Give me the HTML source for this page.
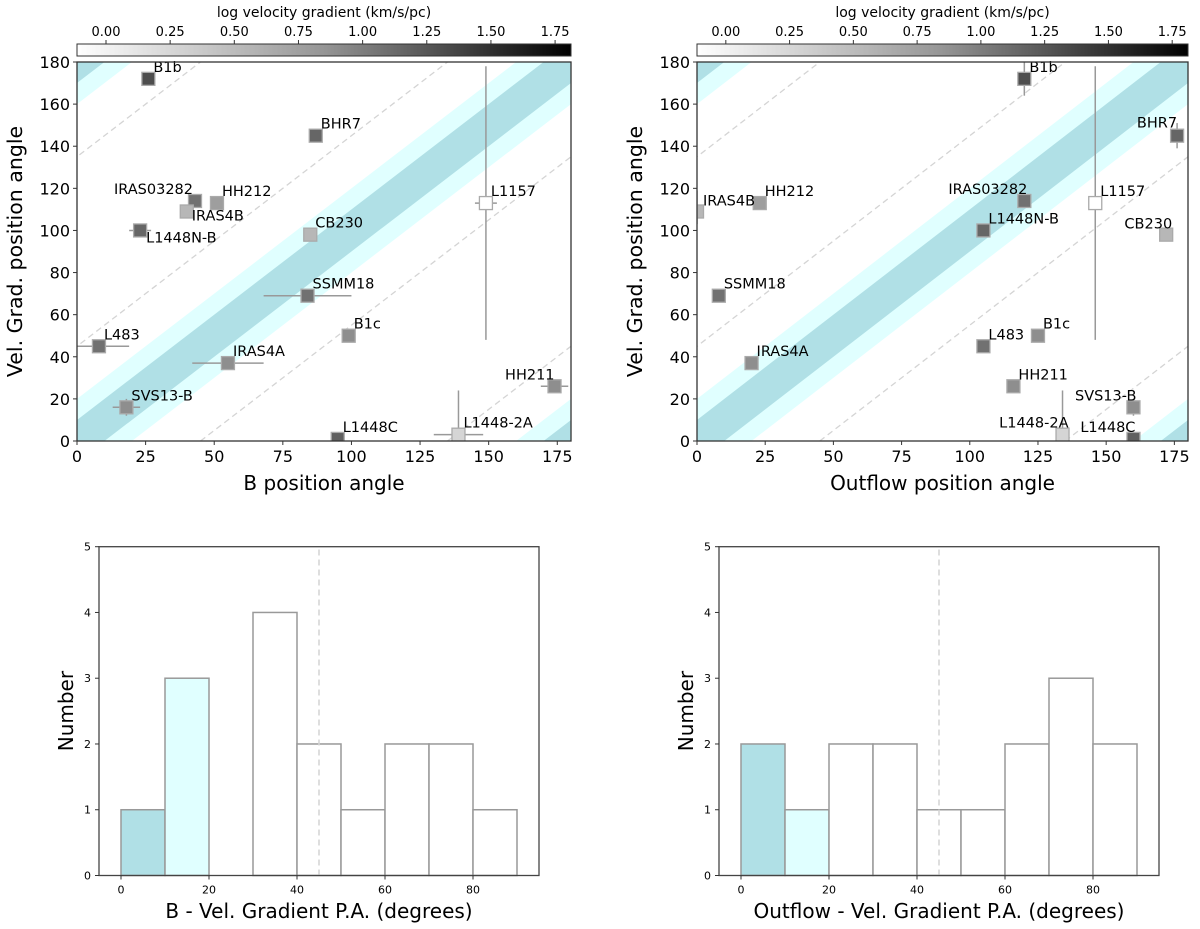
<!DOCTYPE html>
<html><head><meta charset="utf-8"><style>
body{margin:0;background:#fff}
svg{display:block;font-family:"DejaVu Sans","Liberation Sans",sans-serif}
</style></head><body>
<svg id="fig" width="1200" height="929" viewBox="0 0 1200 929" xmlns="http://www.w3.org/2000/svg">
<defs><linearGradient id="cbg" x1="0" x2="1" y1="0" y2="0"><stop offset="0" stop-color="#fff"/><stop offset="0.5" stop-color="#959595"/><stop offset="1" stop-color="#000"/></linearGradient>
<clipPath id="clipL"><rect x="77" y="62" width="494" height="379"/></clipPath>
<clipPath id="clipR"><rect x="697" y="62" width="491" height="379"/></clipPath></defs>
</svg>
<script>
// ---- data ----
const names = ["B1b","BHR7","IRAS03282","HH212","IRAS4B","L1448N-B","L1157","CB230","SSMM18","B1c","L483","IRAS4A","SVS13-B","L1448C","L1448-2A","HH211"];
const velPA = [172,145,114,113,109,100,113,98,69,50,45,37,16,1,3,26];
const bPA = [26,87,43,51,40,23,149,85,84,99,8,55,18,95,139,174];
const bErr = [0,0,0,0,0,4,4,0,16,0,11,13,5,0,9,5];
const outPA = [120,176,120,23,0,105,146,172,8,125,105,20,160,160,134,116];
const outErr = [0,0,0,0,0,0,0,0,0,0,0,0,0,0,0,0];
const velErrLoB = [0,0,0,0,0,0,65,0,0,0,0,0,4,0,0,0];
const velErrHiB = [0,0,0,0,0,0,65,0,0,0,0,0,4,0,21,0];
const velErrLoOut = [8,6,0,0,6,0,65,0,0,0,0,0,4,0,0,0];
const velErrHiOut = [8,6,0,0,10,0,65,0,0,0,0,0,4,0,21,0];
const logGrad = [1.4,1.2,1.1,0.72,0.5,1.2,-0.11,0.5,1.1,0.85,1.1,0.85,0.85,1.25,0.25,0.85];
const histB = [1,3,0,4,2,1,2,2,1];
const histOut = [2,1,2,2,1,1,2,3,2];
const histEdges = [0,10,20,30,40,50,60,70,80,90];
const cbTicks = ["0.00","0.25","0.50","0.75","1.00","1.25","1.50","1.75"];
const paTicks = [0,25,50,75,100,125,150,175];
const vgTicks = [0,20,40,60,80,100,120,140,160,180];
const hxTicks = [0,20,40,60,80];
const hyTicks = [0,1,2,3,4,5];
// label placement (layout, not data)
const labL = {"IRAS03282":["end",-2,-7],"IRAS4B":["start",5,9],"L1448N-B":["start",6,12],"HH211":["end",0,-7]};
const labR = {"IRAS03282":["end",3,-7],"CB230":["end",6,-6],"BHR7":["end",0,-8],"SVS13-B":["end",3,-7],"L1448-2A":["end",6,-7],"L1448C":["end",2,-7],"IRAS4B":["start",6,-6]};

const svg = document.getElementById('fig');
const NS = "http://www.w3.org/2000/svg";
function mk(tag, attrs, parent){const e=document.createElementNS(NS,tag);for(const k in attrs)e.setAttribute(k,attrs[k]);(parent||svg).appendChild(e);return e;}
function txt(s, attrs, parent){const e=mk('text',attrs,parent);e.textContent=s;return e;}
function gray(v){let t=(v+0.113)/1.925;t=Math.max(0,Math.min(1,t));const g=Math.round(255-225*t);return `rgb(${g},${g},${g})`;}

function scatterPanel(side, x0, x1, xs, xErr, eLo, eHi, xlabel, labMap, clip){
  const y0=441, y1=62;
  const X=v=>x0+(v/180)*(x1-x0), Y=v=>y0-(v/180)*(y0-y1);
  const g=mk('g',{});
  
  
  const bg=mk('g',{'clip-path':`url(#${clip})`},g);
  const band=(w,col,off)=>mk('polygon',{points:`${X(-w+off)},${Y(0)} ${X(w+off)},${Y(0)} ${X(180+w+off)},${Y(180)} ${X(180-w+off)},${Y(180)}`,fill:col},bg);
  for(const off of [-180,0,180]){const a=band(20,'#e0ffff',off);}
  for(const off of [-180,0,180]){const a=band(10,'#b0e0e6',off);}
  for(const off of [-135,-45,45,135]){const l=mk('line',{x1:X(off),y1:Y(0),x2:X(180+off),y2:Y(180),stroke:'#d4d4d4','stroke-width':1.3,'stroke-dasharray':'6,4'},bg);
    }
  const pg=mk('g',{'clip-path':`url(#${clip})`},g);
  for(let i=0;i<names.length;i++){
    const cx=X(xs[i]), cy=Y(velPA[i]);
    if(xErr[i]>0){const e=mk('line',{x1:X(xs[i]-xErr[i]),x2:X(xs[i]+xErr[i]),y1:cy,y2:cy,stroke:'#999','stroke-width':1.5},pg);}
    if(eLo[i]>0||eHi[i]>0){const e=mk('line',{x1:cx,x2:cx,y1:Y(velPA[i]-eLo[i]),y2:Y(velPA[i]+eHi[i]),stroke:'#999','stroke-width':1.5},pg);}
  }
  for(let i=0;i<names.length;i++){
    const cx=X(xs[i]), cy=Y(velPA[i]);
    const r=mk('rect',{x:cx-6.5,y:cy-6.5,width:13,height:13,fill:gray(logGrad[i]),stroke:'#aaa','stroke-width':1.3},pg);
    
    
    const L=labMap[names[i]]||['start',5,-7];
    const t=txt(names[i],{x:cx+L[1],y:cy+L[2],'text-anchor':L[0],'font-size':14.5,fill:'#000'},g);
    
    
  }
  const fr=mk('rect',{x:x0,y:y1,width:x1-x0,height:y0-y1,fill:'none',stroke:'#333','stroke-width':1.3},g);
  
  for(const t of paTicks){mk('line',{x1:X(t),x2:X(t),y1:y0,y2:y0+4,stroke:'#333'},g);
    const e=txt(String(t),{x:X(t),y:y0+21,'text-anchor':'middle','font-size':16},g);}
  for(const t of vgTicks){mk('line',{x1:x0-4,x2:x0,y1:Y(t),y2:Y(t),stroke:'#333'},g);
    const e=txt(String(t),{x:x0-7,y:Y(t)+6,'text-anchor':'end','font-size':16},g);}
  const xl=txt(xlabel,{x:(x0+x1)/2,y:490,'text-anchor':'middle','font-size':20},g);
  const yl=txt('Vel. Grad. position angle',{x:0,y:0,'text-anchor':'middle','font-size':20.5,transform:`translate(${x0-55},${(y0+y1)/2}) rotate(-90)`},g);
  const cb=mk('rect',{x:x0,y:44,width:x1-x0,height:12,fill:'url(#cbg)',stroke:'#333','stroke-width':1},g);
  
  const C=v=>x0+(v+0.113)/1.925*(x1-x0);
  for(const s of cbTicks){const v=parseFloat(s);mk('line',{x1:C(v),x2:C(v),y1:40,y2:44,stroke:'#333'},g);
    const e=txt(s,{x:C(v),y:36,'text-anchor':'middle','font-size':13},g);}
  const ct=txt('log velocity gradient (km/s/pc)',{x:(x0+x1)/2,y:17,'text-anchor':'middle','font-size':14},g);
}
scatterPanel('left',77,571,bPA,bErr,velErrLoB,velErrHiB,'B position angle',labL,'clipL');
scatterPanel('right',697,1188,outPA,outErr,velErrLoOut,velErrHiOut,'Outflow position angle',labR,'clipR');

function histPanel(side,x0,x1,counts,xlabel){
  const y0=875.5,y1=546.7;
  const X=v=>x0+(v+5)/100*(x1-x0), Y=v=>y0-v/5*(y0-y1);
  const g=mk('g',{});
  
  
  const fills=['#b0e0e6','#e0ffff'];
  for(let i=0;i<counts.length;i++){
    if(counts[i]<=0)continue;
    const r=mk('rect',{x:X(histEdges[i]),y:Y(counts[i]),width:X(histEdges[i+1])-X(histEdges[i]),height:y0-Y(counts[i]),fill:fills[i]||'#fff',stroke:'#999','stroke-width':1.5},g);
    
    
  }
  const d=mk('line',{x1:X(45),x2:X(45),y1:y0,y2:y1,stroke:'#d4d4d4','stroke-width':1.5,'stroke-dasharray':'6,4'},g);
  
  const fr=mk('rect',{x:x0,y:y1,width:x1-x0,height:y0-y1,fill:'none',stroke:'#444','stroke-width':1.3},g);
  
  for(const t of hxTicks){mk('line',{x1:X(t),x2:X(t),y1:y0,y2:y0+4,stroke:'#333'},g);
    const e=txt(String(t),{x:X(t),y:y0+18,'text-anchor':'middle','font-size':11},g);}
  for(const t of hyTicks){mk('line',{x1:x0-4,x2:x0,y1:Y(t),y2:Y(t),stroke:'#333'},g);
    const e=txt(String(t),{x:x0-8,y:Y(t)+4,'text-anchor':'end','font-size':11},g);}
  const xl=txt(xlabel,{x:(x0+x1)/2,y:918,'text-anchor':'middle','font-size':20},g);
  const yl=txt('Number',{x:0,y:0,'text-anchor':'middle','font-size':20,transform:`translate(${x0-26},${(y0+y1)/2}) rotate(-90)`},g);
}
histPanel('left',99,539,histB,'B - Vel. Gradient P.A. (degrees)');
histPanel('right',719,1159,histOut,'Outflow - Vel. Gradient P.A. (degrees)');
</script>
</body></html>
